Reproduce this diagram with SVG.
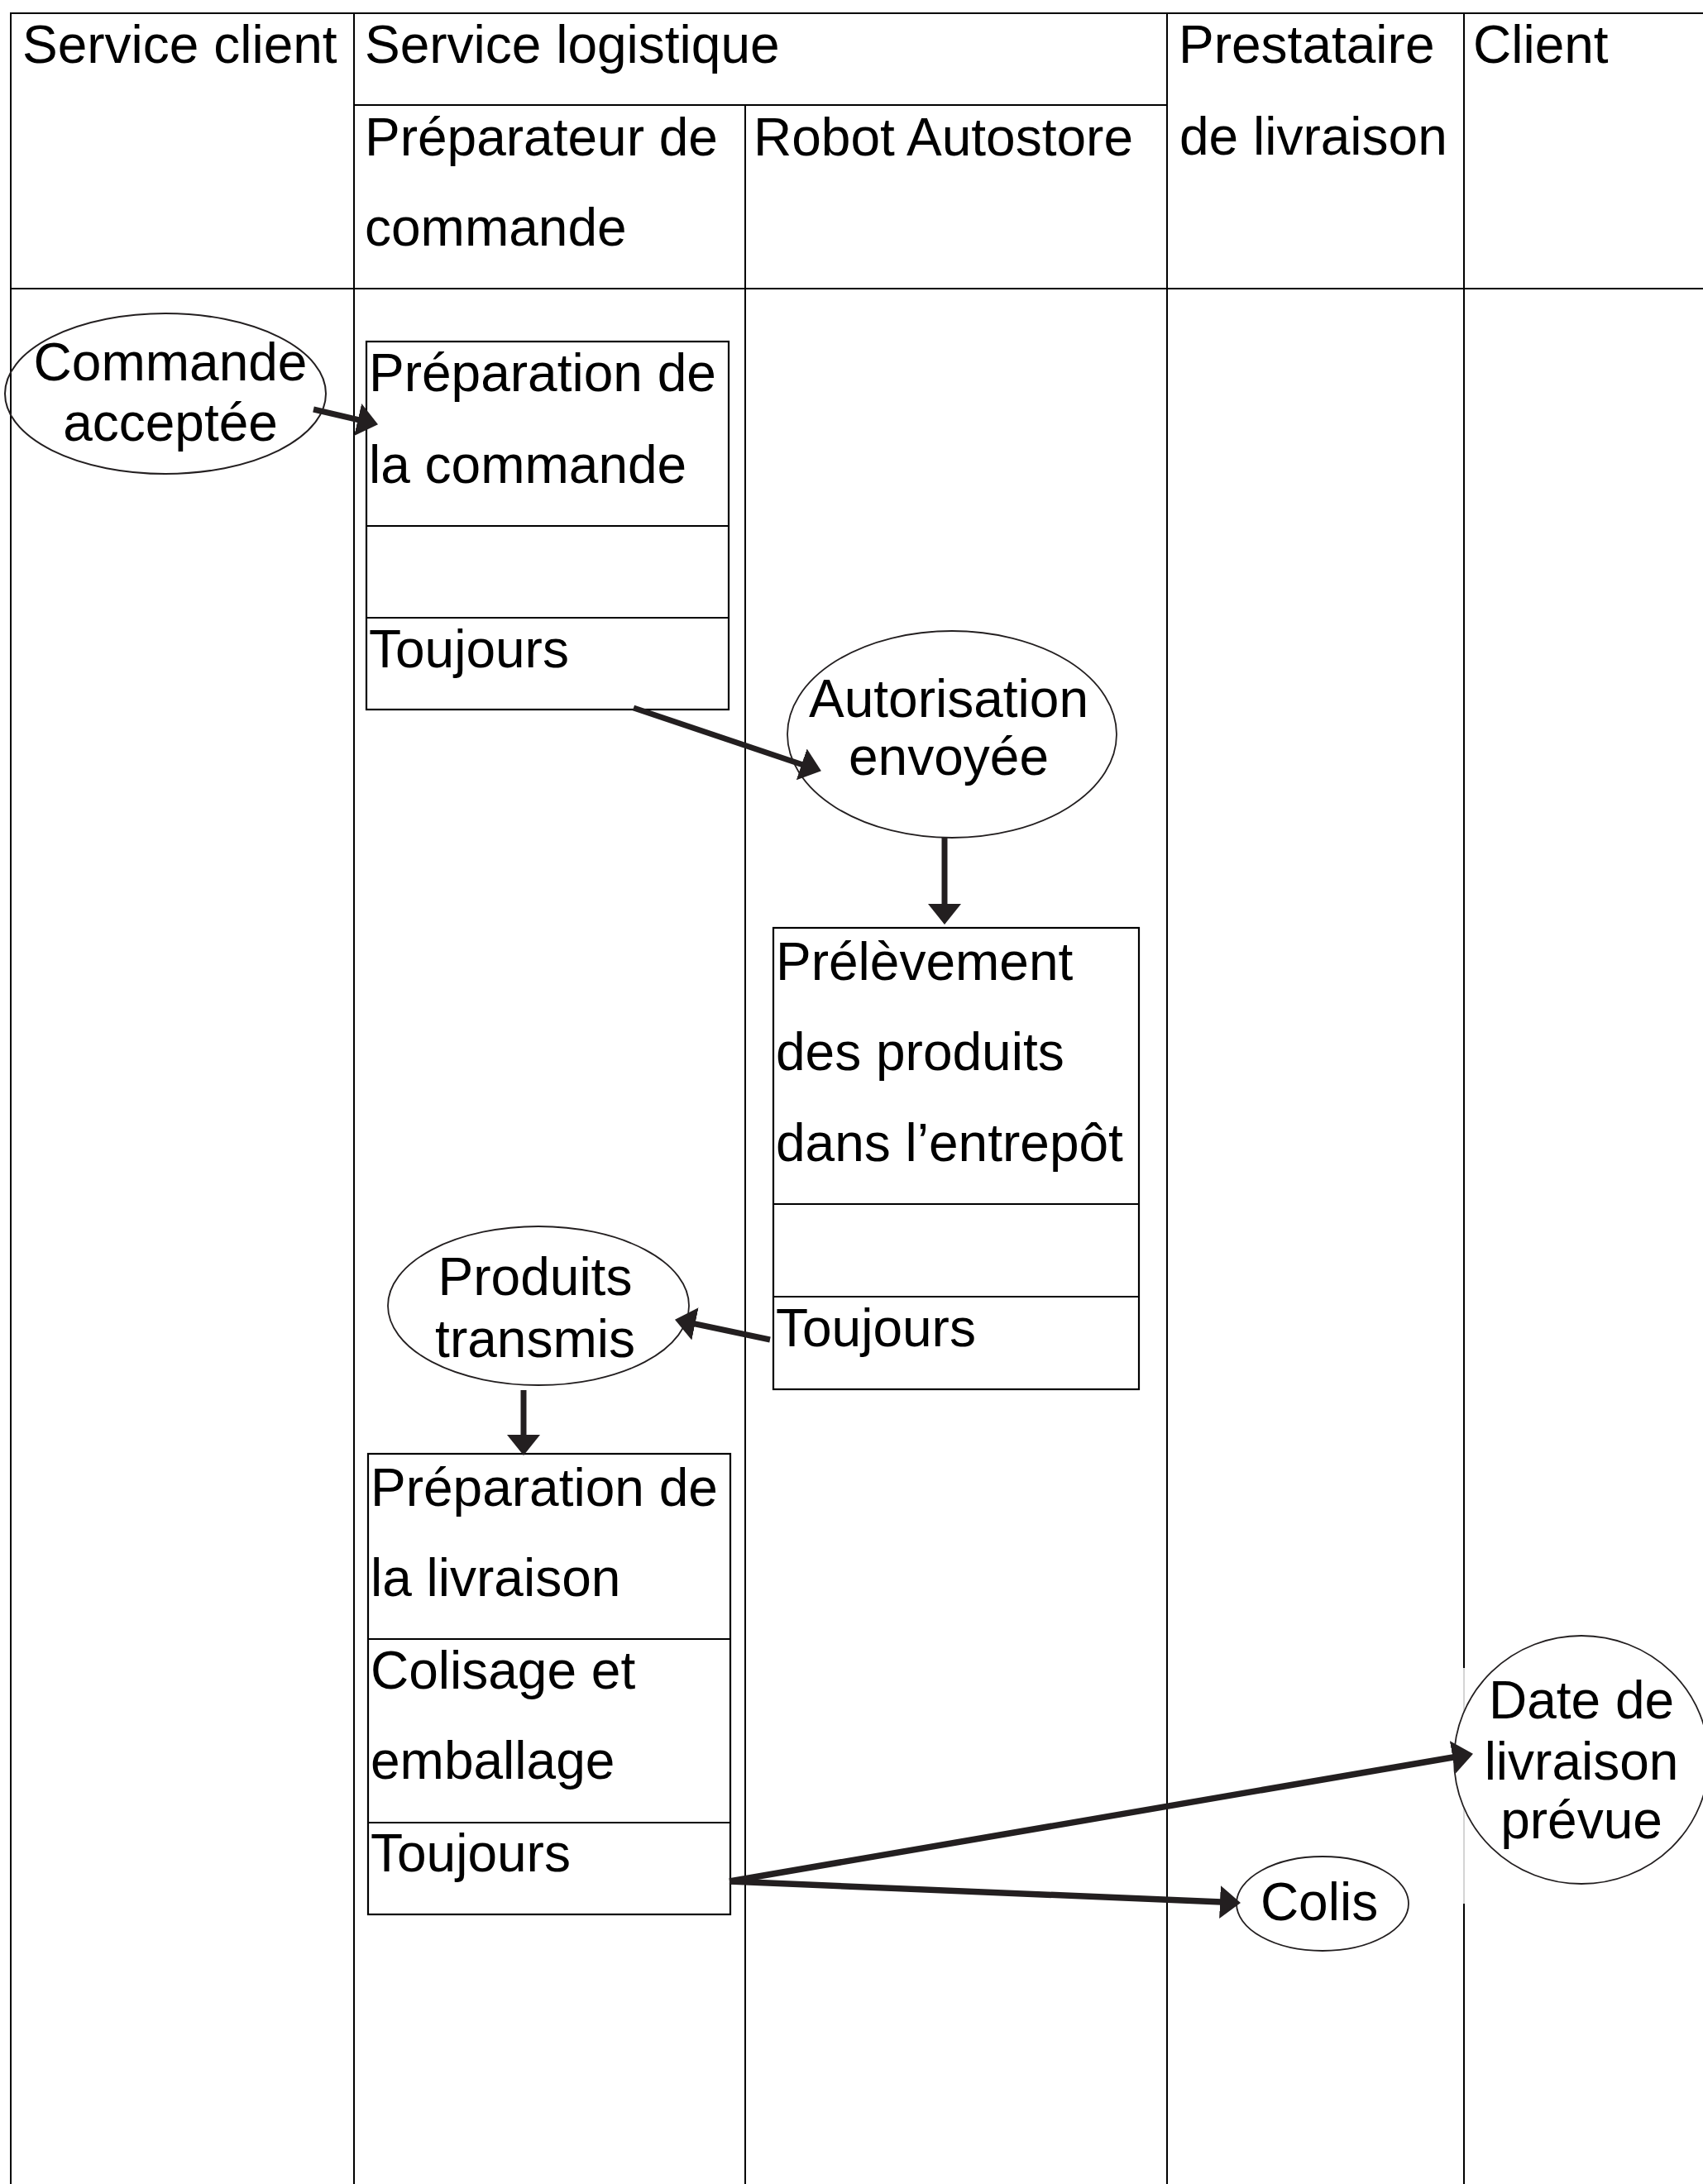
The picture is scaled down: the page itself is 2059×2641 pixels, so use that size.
<svg xmlns="http://www.w3.org/2000/svg" width="2059" height="2641" viewBox="0 0 2059 2641">
<style>
.t{font-family:"Liberation Sans",Arial,sans-serif;font-size:64px;fill:#000}
.c{text-anchor:middle}
.grid{stroke:#000;stroke-width:2;fill:none}
.box{stroke:#000;stroke-width:2.2;fill:#fff}
.ell{stroke:#231f20;stroke-width:1.8;fill:#fff}
.arr{stroke:#231f20;stroke-width:7;fill:none;marker-end:url(#ah)}
</style>
<defs>
<marker id="ah" markerUnits="userSpaceOnUse" markerWidth="28" markerHeight="42" refX="2" refY="20" orient="auto">
<path d="M0,0 L25,20 L0,40 z" fill="#231f20"/>
</marker>
</defs>
<rect width="2059" height="2641" fill="#fff"/>
<g id="table">
<line class="grid" x1="12" y1="16" x2="2059" y2="16"/>
<line class="grid" x1="427" y1="127" x2="1411" y2="127"/>
<line class="grid" x1="12" y1="349" x2="2059" y2="349"/>
<line class="grid" x1="13" y1="15" x2="13" y2="2641"/>
<line class="grid" x1="428" y1="15" x2="428" y2="2641"/>
<line class="grid" x1="901" y1="126" x2="901" y2="2641"/>
<line class="grid" x1="1411" y1="15" x2="1411" y2="2641"/>
<line class="grid" x1="1770" y1="15" x2="1770" y2="2017"/>
<line x1="1770" y1="2017" x2="1770" y2="2302" stroke="#aaa" stroke-width="1"/>
<line class="grid" x1="1770" y1="2302" x2="1770" y2="2641"/>
<text class="t" x="27" y="76">Service client</text>
<text class="t" x="441" y="76">Service logistique</text>
<text class="t" x="441" y="188">Préparateur de</text>
<text class="t" x="441" y="297">commande</text>
<text class="t" x="911" y="188">Robot Autostore</text>
<text class="t" x="1425" y="76">Prestataire</text>
<text class="t" x="1426" y="187">de livraison</text>
<text class="t" x="1781" y="76">Client</text>
</g>
<g id="commande-acceptee">
<ellipse cx="200" cy="476" rx="194" ry="97" fill="none" stroke="#231f20" stroke-width="2"/>
<text class="t c" x="206" y="460">Commande</text>
<text class="t c" x="206" y="533">acceptée</text>
</g>
<g id="preparation-commande">
<rect class="box" x="443" y="413" width="438" height="445"/>
<line class="grid" x1="443" y1="636" x2="881" y2="636"/>
<line class="grid" x1="443" y1="747" x2="881" y2="747"/>
<text class="t" x="446" y="473">Préparation de</text>
<text class="t" x="446" y="584">la commande</text>
<text class="t" x="446" y="807">Toujours</text>
</g>
<g id="autorisation-envoyee">
<ellipse class="ell" cx="1151" cy="888" rx="199" ry="125"/>
<text class="t c" x="1147" y="867">Autorisation</text>
<text class="t c" x="1147" y="937">envoyée</text>
</g>
<g id="prelevement">
<rect class="box" x="935" y="1122" width="442" height="558"/>
<line class="grid" x1="935" y1="1456" x2="1377" y2="1456"/>
<line class="grid" x1="935" y1="1568" x2="1377" y2="1568"/>
<text class="t" x="938" y="1185">Prélèvement</text>
<text class="t" x="938" y="1294">des produits</text>
<text class="t" x="938" y="1404">dans l’entrepôt</text>
<text class="t" x="938" y="1628">Toujours</text>
</g>
<g id="produits-transmis">
<ellipse class="ell" cx="651" cy="1579" rx="182" ry="96"/>
<text class="t c" x="647" y="1566">Produits</text>
<text class="t c" x="647" y="1641">transmis</text>
</g>
<g id="preparation-livraison">
<rect class="box" x="445" y="1758" width="438" height="557"/>
<line class="grid" x1="445" y1="1982" x2="883" y2="1982"/>
<line class="grid" x1="445" y1="2204" x2="883" y2="2204"/>
<text class="t" x="448" y="1821">Préparation de</text>
<text class="t" x="448" y="1930">la livraison</text>
<text class="t" x="448" y="2042">Colisage et</text>
<text class="t" x="448" y="2151">emballage</text>
<text class="t" x="448" y="2263">Toujours</text>
</g>
<g id="colis">
<ellipse class="ell" cx="1599" cy="2302" rx="104" ry="57"/>
<text class="t c" x="1595" y="2322">Colis</text>
</g>
<g id="date-livraison">
<ellipse class="ell" cx="1912" cy="2128" rx="154" ry="150"/>
<text class="t c" x="1912" y="2078">Date de</text>
<text class="t c" x="1912" y="2152">livraison</text>
<text class="t c" x="1912" y="2223">prévue</text>
</g>
<g id="connectors">
<line class="arr" x1="379" y1="495" x2="434.6" y2="508"/>
<line class="arr" x1="766" y1="856" x2="971.1" y2="925"/>
<line class="arr" x1="1142" y1="1012" x2="1142" y2="1095"/>
<line class="arr" x1="931" y1="1620" x2="838.5" y2="1600.5"/>
<line class="arr" x1="633" y1="1681" x2="633" y2="1737"/>
<line class="arr" style="stroke-width:7.5" x1="882" y1="2275" x2="1758.3" y2="2124.7"/>
<line class="arr" style="stroke-width:7.5" x1="882" y1="2275" x2="1477" y2="2300.1"/>
</g>
</svg>
